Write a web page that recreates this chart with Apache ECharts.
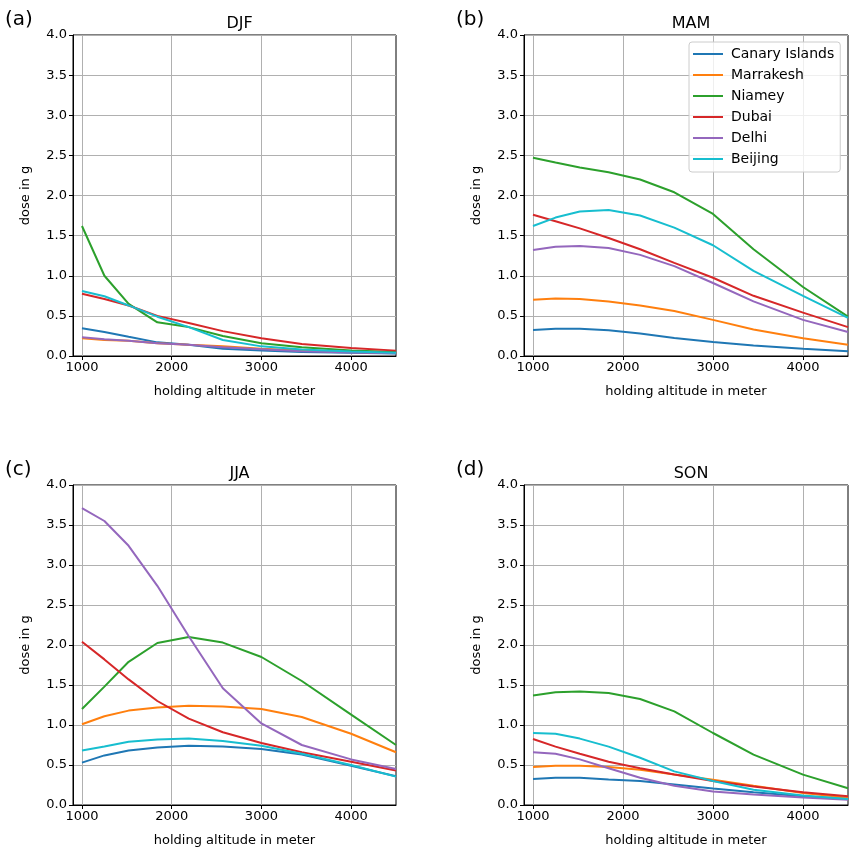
<!DOCTYPE html>
<html>
<head>
<meta charset="utf-8">
<script src="https://cdn.jsdelivr.net/npm/echarts@6/dist/echarts.min.js"></script>
<style>html,body{margin:0;padding:0;background:#fff;}#c{width:857px;height:856px;}</style>
</head>
<body>
<div id="c"></div>
<script>
const altitudes = [1000, 1250, 1520, 1840, 2190, 2570, 3000, 3450, 4000, 4500];
const cities = ['Canary Islands', 'Marrakesh', 'Niamey', 'Dubai', 'Delhi', 'Beijing'];
const seasons = ['DJF', 'MAM', 'JJA', 'SON'];
const panelLabels = ['(a)', '(b)', '(c)', '(d)'];
const xTicks = [1000, 2000, 3000, 4000];

const djf = [
  [0.345, 0.30, 0.24, 0.17, 0.14, 0.09, 0.07, 0.05, 0.04, 0.03],
  [0.22, 0.20, 0.19, 0.16, 0.14, 0.12, 0.09, 0.07, 0.05, 0.04],
  [1.62, 1.00, 0.65, 0.42, 0.36, 0.25, 0.16, 0.11, 0.07, 0.05],
  [0.775, 0.71, 0.63, 0.50, 0.41, 0.31, 0.22, 0.15, 0.10, 0.067],
  [0.235, 0.21, 0.19, 0.16, 0.14, 0.11, 0.085, 0.06, 0.045, 0.035],
  [0.81, 0.745, 0.63, 0.49, 0.36, 0.20, 0.12, 0.08, 0.055, 0.04]
];
const mam = [
  [0.325, 0.34, 0.34, 0.32, 0.28, 0.225, 0.175, 0.13, 0.09, 0.06],
  [0.70, 0.715, 0.71, 0.68, 0.63, 0.56, 0.45, 0.33, 0.22, 0.14],
  [2.47, 2.41, 2.35, 2.29, 2.20, 2.04, 1.77, 1.33, 0.86, 0.49],
  [1.76, 1.68, 1.59, 1.47, 1.33, 1.16, 0.975, 0.75, 0.54, 0.36],
  [1.32, 1.36, 1.37, 1.345, 1.26, 1.12, 0.91, 0.68, 0.45, 0.30],
  [1.62, 1.725, 1.80, 1.82, 1.75, 1.60, 1.38, 1.06, 0.75, 0.475]
];
const jja = [
  [0.53, 0.62, 0.68, 0.72, 0.74, 0.73, 0.70, 0.63, 0.49, 0.36],
  [1.01, 1.11, 1.18, 1.22, 1.24, 1.23, 1.20, 1.10, 0.89, 0.66],
  [1.20, 1.48, 1.79, 2.025, 2.10, 2.03, 1.85, 1.55, 1.13, 0.75],
  [2.04, 1.82, 1.57, 1.30, 1.08, 0.91, 0.775, 0.66, 0.54, 0.43],
  [3.71, 3.55, 3.24, 2.74, 2.11, 1.46, 1.02, 0.75, 0.57, 0.45],
  [0.68, 0.73, 0.79, 0.82, 0.83, 0.80, 0.74, 0.64, 0.50, 0.355]
];
const son = [
  [0.325, 0.34, 0.34, 0.32, 0.30, 0.255, 0.205, 0.16, 0.11, 0.075],
  [0.475, 0.49, 0.49, 0.475, 0.44, 0.38, 0.315, 0.24, 0.15, 0.09],
  [1.37, 1.41, 1.42, 1.40, 1.325, 1.17, 0.90, 0.63, 0.38, 0.21],
  [0.825, 0.73, 0.64, 0.54, 0.46, 0.38, 0.30, 0.23, 0.16, 0.11],
  [0.66, 0.64, 0.57, 0.46, 0.34, 0.24, 0.17, 0.13, 0.095, 0.065],
  [0.90, 0.89, 0.83, 0.73, 0.59, 0.42, 0.30, 0.19, 0.12, 0.075]
];
const seasonData = [djf, mam, jja, son];
const colors = ['#1f77b4', '#ff7f0e', '#2ca02c', '#d62728', '#9467bd', '#17becf'];

const FONT = 'DejaVu Sans';
const grids = [
  {left: 73, top: 35, width: 323, height: 321},
  {left: 524, top: 35, width: 324, height: 321},
  {left: 73, top: 485, width: 323, height: 320},
  {left: 524, top: 485, width: 324, height: 320}
];

const option = {
  animation: false,
  backgroundColor: '#fff',
  color: colors,
  textStyle: {fontFamily: FONT},
  title: [],
  grid: grids.map(g => Object.assign({show: true, borderColor: '#000', borderWidth: 1, backgroundColor: 'transparent', containLabel: false}, g)),
  xAxis: [],
  yAxis: [],
  legend: {
    data: cities,
    orient: 'vertical',
    left: 689, top: 42,
    icon: 'rect',
    itemWidth: 30, itemHeight: 2,
    itemGap: 7,
    padding: [5, 6, 6, 4],
    backgroundColor: 'rgba(255,255,255,0.8)',
    borderColor: '#cccccc', borderWidth: 1, borderRadius: 3,
    textStyle: {fontFamily: FONT, fontSize: 14, color: '#000', padding: [0, 0, 0, 3]},
    selectedMode: false
  },
  series: []
};

grids.forEach((g, i) => {
  option.title.push({
    text: seasons[i], left: g.left + g.width / 2, top: g.top - 24, textAlign: 'center',
    textStyle: {fontFamily: FONT, fontSize: 16, fontWeight: 'normal', color: '#000'}
  });
  option.title.push({
    text: panelLabels[i], left: g.left - 73, top: g.top - 30,
    textStyle: {fontFamily: FONT, fontSize: 20, fontWeight: 'normal', color: '#000'}
  });
  option.xAxis.push({
    type: 'value', gridIndex: i, min: 900, max: 4500,
    name: 'holding altitude in meter', nameLocation: 'middle', nameGap: 29,
    nameTextStyle: {fontFamily: FONT, fontSize: 13, color: '#000'},
    axisLine: {show: true, onZero: false, lineStyle: {color: '#000', width: 1}},
    axisTick: {show: true, length: 4, inside: false, customValues: xTicks, lineStyle: {color: '#000'}},
    axisLabel: {customValues: xTicks, fontFamily: FONT, fontSize: 13, color: '#000', margin: 5, formatter: v => String(v)},
    splitLine: {show: true, lineStyle: {color: '#b0b0b0', width: 1}}
  });
  option.yAxis.push({
    type: 'value', gridIndex: i, min: 0, max: 4, interval: 0.5,
    name: 'dose in g', nameLocation: 'middle', nameGap: 41,
    nameTextStyle: {fontFamily: FONT, fontSize: 13, color: '#000'},
    axisLine: {show: true, onZero: false, lineStyle: {color: '#000', width: 1}},
    axisTick: {show: true, length: 4, lineStyle: {color: '#000'}},
    axisLabel: {fontFamily: FONT, fontSize: 13, color: '#000', margin: 6, formatter: v => v.toFixed(1)},
    splitLine: {show: true, lineStyle: {color: '#b0b0b0', width: 1}}
  });
  seasonData[i].forEach((vals, k) => {
    option.series.push({
      name: cities[k], type: 'line', xAxisIndex: i, yAxisIndex: i,
      data: altitudes.map((a, j) => [a, vals[j]]),
      showSymbol: false, symbol: 'none', smooth: false,
      lineStyle: {width: 2, color: colors[k]},
      itemStyle: {color: colors[k]},
      z: 2 + k
    });
  });
});

const chart = echarts.init(document.getElementById('c'), null, {renderer: 'canvas'});
chart.setOption(option);
</script>
</body>
</html>
